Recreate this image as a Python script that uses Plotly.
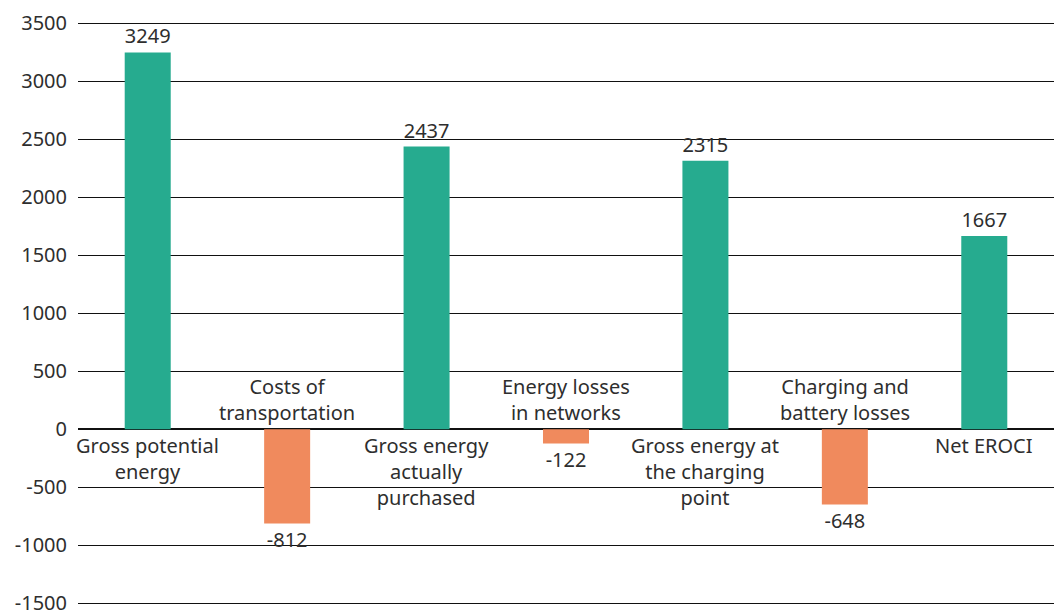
import plotly.graph_objects as go

categories = ["Gross potential<br>energy", "Costs of<br>transportation", "Gross energy<br>actually<br>purchased",
              "Energy losses<br>in networks", "Gross energy at<br>the charging<br>point",
              "Charging and<br>battery losses", "Net EROCI"]
values = [3249, -812, 2437, -122, 2315, -648, 1667]
tick_vals = [-1500, -1000, -500, 0, 500, 1000, 1500, 2000, 2500, 3000, 3500]
tick_text = [str(v) for v in tick_vals]

green = "#26ab8f"
orange = "#f08a5d"
font = "Noto Sans"
ink = "#2e2e2e"

x = list(range(len(categories)))
colors = [green if v >= 0 else orange for v in values]

fig = go.Figure()
fig.add_trace(go.Bar(
    x=x, y=values, marker=dict(color=colors, line=dict(width=0)),
    width=0.33, text=[str(v) for v in values], textposition="outside",
    textfont=dict(family=font, size=20, color=ink), cliponaxis=False,
))

# category labels sit on the opposite side of the zero line
for i, (c, v) in enumerate(zip(categories, values)):
    fig.add_annotation(
        x=i, y=0, xref="x", yref="y", text=c, showarrow=False,
        yanchor="top" if v >= 0 else "bottom", yshift=-1 if v >= 0 else 1,
        font=dict(family=font, size=20, color=ink), align="center",
    )

# range padded a little so the -1500 and 3500 grid lines sit inside the plot
fig.update_layout(
    width=1054, height=610, plot_bgcolor="white", paper_bgcolor="white",
    margin=dict(l=78, r=0, t=21, b=1), showlegend=False,
    xaxis=dict(range=[-0.5, len(categories) - 0.5], showticklabels=False,
               showgrid=False, zeroline=False, showline=False),
    yaxis=dict(range=[-1550, 3520], tickvals=tick_vals, ticktext=tick_text,
               showgrid=True, gridcolor="#111111", gridwidth=1.3,
               zeroline=True, zerolinecolor="#111111", zerolinewidth=1.5,
               tickfont=dict(family=font, size=20, color=ink), ticks="",
               ticklabelstandoff=10, ticklabeloverflow="allow", automargin=False),
)

# drop the default page margin so the figure fills the window exactly
fig.write_html("out.html", config={"displayModeBar": False},
               post_script="document.body.style.margin='0';document.body.style.overflow='hidden';")
